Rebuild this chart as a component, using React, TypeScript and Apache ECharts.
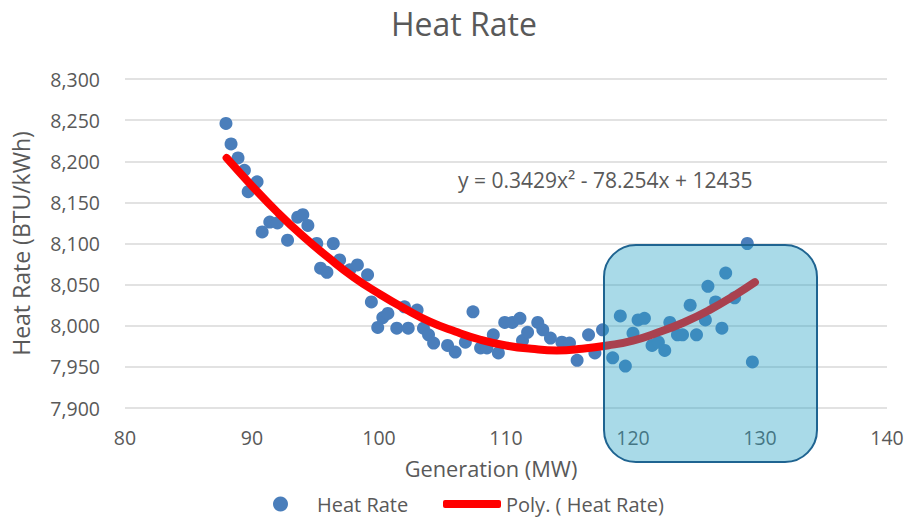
import React, { useEffect, useRef } from "react";
import * as echarts from "echarts";

const generationMW: number[] = [
  87.95, 88.35, 88.9, 89.4, 89.7, 90.4, 90.8, 91.4, 92.0, 92.8,
  93.6, 94.0, 94.4, 95.1, 96.4, 95.4, 95.9, 96.9, 97.7, 98.3,
  99.1, 99.4, 100.3, 100.7, 99.9, 101.4, 102.3, 103.0, 102.0, 103.5,
  103.9, 104.3, 105.4, 106.0, 107.4, 106.8, 108.0, 108.5, 109.0, 109.4,
  109.9, 110.5, 111.1, 111.3, 111.7, 112.5, 112.9, 113.5, 114.4, 115.0,
  115.6, 116.5, 117.0, 117.6, 118.4, 119.0, 119.4, 120.0, 120.4, 120.9,
  121.5, 122.0, 122.5, 122.9, 123.5, 123.9, 124.5, 125.0, 125.9, 126.5,
  127.0, 127.3, 128.0, 129.0, 129.4, 125.7,
];
const heatRate: number[] = [
  8246, 8221, 8204, 8189, 8163, 8175, 8114, 8126, 8125, 8104,
  8132, 8135, 8122, 8100, 8100, 8070, 8065, 8080, 8068, 8074,
  8062, 8029, 8010, 8015, 7998, 7997, 7997, 8019, 8023, 7997,
  7989, 7979, 7976, 7968, 8017, 7980, 7973, 7973, 7989, 7967,
  8004, 8004, 8009, 7982, 7992, 8004, 7995, 7985, 7980, 7979,
  7958, 7989, 7967, 7995, 7961, 8012, 7951, 7991, 8007, 8009,
  7976, 7980, 7970, 8004, 7989, 7989, 8025, 7989, 8048, 8029,
  7997, 8064, 8034, 8100, 7956, 8007,
];

const trendX: number[] = [88, 90, 92, 94, 96, 98, 100, 102, 104, 106, 108, 110, 112, 114, 116, 118, 120, 122, 124, 126, 128, 129.6];
const trendY: number[] = [8204, 8170, 8138, 8109, 8083, 8059, 8039, 8021, 8005, 7993, 7983, 7976, 7972, 7970, 7972, 7976, 7982, 7992, 8004, 8019, 8037, 8053];

const yTicks = { min: 7900, max: 8300, step: 50 };
const xTicks = { min: 80, max: 140, step: 10 };

const titleText = "Heat Rate";
const equationText = "y = 0.3429x\u00B2 - 78.254x + 12435";

const FONT = "'Open Sans', sans-serif";
const GRAY = "#595959";

export default function App() {
  const ref = useRef<HTMLDivElement>(null);
  useEffect(() => {
    if (!ref.current) return;
    const chart = echarts.init(ref.current, undefined, { renderer: "svg" });
    const scatterData = generationMW.map((x, i) => [x, heatRate[i]]);
    const trendData = trendX.map((x, i) => [x, trendY[i]]);
    chart.setOption({
      animation: false,
      backgroundColor: "#ffffff",
      textStyle: { fontFamily: FONT },
      title: {
        text: titleText,
        left: 386,
        top: 2,
        padding: 5,
        textStyle: { fontFamily: FONT, fontSize: 32, fontWeight: "normal", color: GRAY },
      },
      grid: { left: 125, right: 21, top: 79, bottom: 111, containLabel: false },
      xAxis: {
        type: "value",
        min: xTicks.min,
        max: xTicks.max,
        interval: xTicks.step,
        name: "Generation (MW)",
        nameLocation: "middle",
        nameGap: 49,
        nameTextStyle: { fontFamily: FONT, fontSize: 21.8, color: GRAY, padding: [0, 30, 0, 0] },
        axisLine: { show: false },
        axisTick: { show: false },
        splitLine: { show: false },
        axisLabel: { margin: 19, fontFamily: FONT, fontSize: 19.5, color: GRAY },
      },
      yAxis: {
        type: "value",
        min: yTicks.min,
        max: yTicks.max,
        interval: yTicks.step,
        name: "Heat Rate (BTU/kWh)",
        nameLocation: "middle",
        nameGap: 93,
        nameTextStyle: { fontFamily: FONT, fontSize: 23, color: GRAY },
        axisLine: { show: false },
        axisTick: { show: false },
        splitLine: { show: true, lineStyle: { color: "#d9d9d9", width: 1.5 } },
        axisLabel: {
          margin: 25,
          fontFamily: FONT,
          fontSize: 19.5,
          color: GRAY,
          formatter: (v: number) => v.toLocaleString("en-US"),
        },
      },
      legend: [
        {
          data: [{ name: "Heat Rate", icon: "circle" }],
          left: 273,
          top: 494,
          padding: 0,
          itemWidth: 15,
          itemHeight: 15,
          textStyle: { fontFamily: FONT, fontSize: 20, color: GRAY, padding: [0, 0, 0, 24] },
        },
        {
          data: [{ name: "Poly. ( Heat Rate)", icon: "roundRect" }],
          left: 443,
          top: 494,
          padding: 0,
          itemWidth: 58,
          itemHeight: 8,
          itemGap: 0,
          textStyle: { fontFamily: FONT, fontSize: 20, color: GRAY },
        },
      ],
      series: [
        {
          name: "Heat Rate",
          type: "scatter",
          data: scatterData,
          symbol: "circle",
          symbolSize: 13,
          itemStyle: { color: "#4a7ebb", opacity: 1 },
          z: 2,
        },
        {
          name: "Poly. ( Heat Rate)",
          type: "line",
          data: trendData,
          smooth: true,
          showSymbol: false,
          symbol: "none",
          lineStyle: { color: "#ff0000", width: 8, cap: "round" },
          itemStyle: { color: "#ff0000" },
          z: 3,
        },
      ],
      graphic: [
        {
          type: "text",
          left: 458,
          top: 169,
          z: 50,
          style: { text: equationText, fontFamily: FONT, fontSize: 21, fill: GRAY },
        },
        {
          type: "rect",
          shape: { x: 604, y: 245, width: 213, height: 217, r: 32 },
          z: 100,
          style: { fill: "rgba(40,162,197,0.4)", stroke: "#1f6491", lineWidth: 2 },
        },
      ],
    });
    return () => chart.dispose();
  }, []);
  return (
    <div
      ref={ref}
      style={{ position: "fixed", left: 0, top: 0, width: 908, height: 519 }}
    />
  );
}
